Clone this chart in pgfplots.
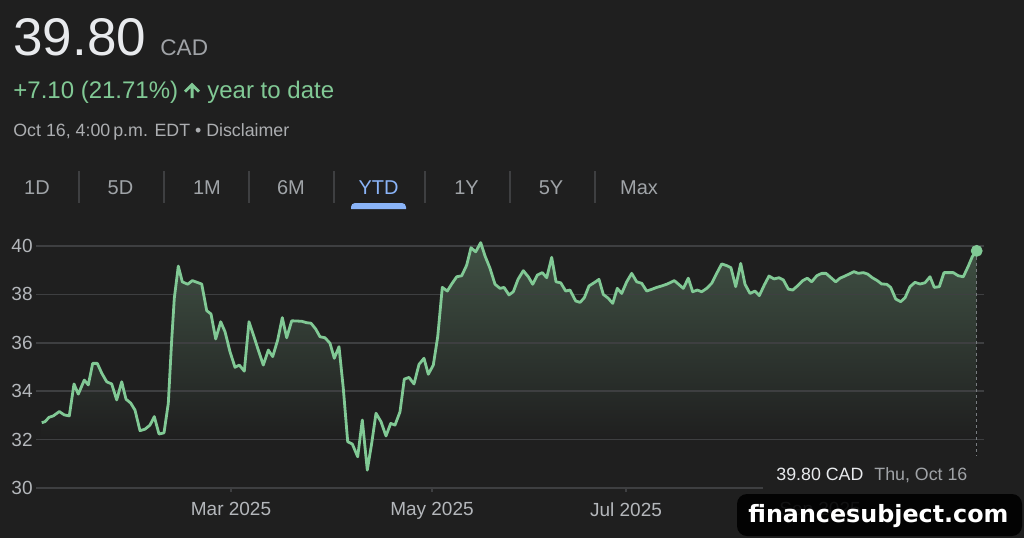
\documentclass[border=0pt]{standalone}
\usepackage{fontspec}
\setmainfont{Liberation Sans}
\newfontfamily\wmfont{DejaVu Sans}
\usepackage{pgfplots}
\pgfplotsset{compat=1.18}
\usepackage{pgfplotstable}
\usepgfplotslibrary{fillbetween}
\definecolor{bg}{RGB}{31,31,31}
\definecolor{gridc}{RGB}{62,63,65}
\definecolor{tickc}{RGB}{180,183,187}
\definecolor{linec}{RGB}{129,201,149}
\definecolor{filltop}{RGB}{64,81,68}
\definecolor{tabc}{RGB}{160,164,168}
\definecolor{ytdblue}{RGB}{138,180,248}
\definecolor{whitec}{RGB}{232,234,237}
\definecolor{grayc}{RGB}{160,163,167}
\definecolor{grayb}{RGB}{172,174,177}
\definecolor{dotc}{RGB}{120,124,128}
\pagecolor{bg}
\pgfdeclareverticalshading{areashade}{100bp}{color(0bp)=(bg); color(35bp)=(bg); color(75bp)=(filltop); color(100bp)=(filltop)}

\pgfplotstableread{
x y
41.7 32.70
45 32.74
49 32.92
53.3 32.98
59.3 33.16
64.3 33.02
69.3 32.98
74 34.30
78.3 33.88
84.3 34.46
88.3 34.26
92.7 35.15
97.3 35.15
101.7 34.75
106.7 34.39
111.7 34.30
116.7 33.64
121.7 34.39
126 33.67
130.7 33.51
135 33.22
140 32.37
145 32.43
150 32.60
154.3 32.95
159 32.23
164 32.28
168.3 33.50
171.7 36.12
174.3 37.84
178.3 39.17
182.3 38.52
187.7 38.42
192.3 38.57
198.3 38.48
201.7 38.43
206.7 37.33
211 37.19
215.7 36.16
220.7 36.87
225 36.46
230 35.63
235 34.99
239.3 35.08
244.3 34.83
249 36.87
254 36.25
258.3 35.70
263.3 35.08
268.3 35.70
272.7 35.43
277.7 36.12
282.3 37.04
286.7 36.21
291.7 36.91
296.7 36.90
301.7 36.89
306.7 36.83
311 36.81
315.7 36.57
320 36.25
325 36.21
330 35.98
334.3 35.36
339 35.84
343.3 34.12
347.7 31.91
352.3 31.82
357.7 31.29
362.3 32.81
367.3 30.74
371.7 31.85
376 33.09
381 32.74
386 32.15
390.7 32.67
395 32.60
400 33.15
404.3 34.50
409 34.57
414 34.30
419 35.11
424 35.36
428.3 34.70
433.3 35.08
437.7 36.25
442.3 38.29
447.3 38.14
451.7 38.43
456.7 38.73
461.7 38.77
466.7 39.21
471 39.93
475.7 39.76
480.7 40.14
485 39.59
490 39.08
495 38.42
500 38.25
504 38.29
509 37.98
513.3 38.11
518 38.62
523.3 38.98
528.3 38.73
532.7 38.42
537.3 38.80
542.3 38.90
546.7 38.69
551.7 39.53
556 38.52
560.7 38.48
565.7 38.14
570 38.18
575.7 37.73
580 37.67
584.3 37.86
589 38.35
594 38.48
599 38.62
603.3 38.00
608.3 37.84
612.7 37.63
617.3 38.25
621.7 38.04
626.7 38.52
631.7 38.87
636.7 38.52
641.7 38.46
646.7 38.14
651.7 38.21
656.7 38.29
661.7 38.35
667.3 38.43
674.3 38.57
678.3 38.43
683.3 38.25
688.3 38.67
692.7 38.11
697.3 38.18
701.7 38.11
706.7 38.25
711.7 38.46
716.7 38.87
721.7 39.26
726.7 39.19
731 39.10
735.7 38.32
740.7 39.28
745 38.42
750 38.04
755 38.14
759.3 37.95
764.3 38.39
769 38.76
774 38.64
779 38.69
783.3 38.60
788.3 38.22
792.7 38.18
797.7 38.36
802.7 38.57
807.3 38.67
811.7 38.52
816.7 38.77
821.7 38.87
826 38.87
831 38.69
835.7 38.52
840 38.67
845 38.76
849 38.84
854 38.94
858.3 38.87
863.3 38.90
867.7 38.84
872.3 38.69
877.3 38.57
881.7 38.43
886.7 38.42
890.7 38.29
895.7 37.81
900.7 37.70
905 37.86
910 38.32
915 38.50
920 38.43
925 38.48
930 38.73
934.3 38.29
939.3 38.32
944 38.90
949 38.90
953.3 38.90
958.3 38.77
963.3 38.73
968.3 39.17
972.3 39.56
976.7 39.80
}\pricedata

\begin{document}
\begin{tikzpicture}
\begin{scope}[x=0.5pt,y=-0.5pt]
\path[use as bounding box] (0,0) rectangle (1024,538);
\node[anchor=base west, inner sep=0pt, text=whitec, font=\fontsize{26.5}{30}\selectfont] at (13,55) {39.80};
\node[anchor=base west, inner sep=0pt, text=grayc, font=\fontsize{11.3}{13}\selectfont] at (160,55) {CAD};
\node[anchor=base west, inner sep=0pt, text=linec, font=\fontsize{12}{14}\selectfont] at (13,98) {+7.10 (21.71\%)};
\fill[linec] (192,82.5) -- (200,90.5) -- (198,92.5) -- (193.5,88) -- (193.5,98) -- (190.5,98) -- (190.5,88) -- (186,92.5) -- (184,90.5) -- cycle;
\node[anchor=base west, inner sep=0pt, text=linec, font=\fontsize{12}{14}\selectfont] at (207,98) {year to date};
\node[anchor=base west, inner sep=0pt, text=grayb, font=\fontsize{8.9}{10}\selectfont] at (13,136.7) {Oct 16, 4:00\,p.m. EDT • Disclaimer};
\foreach \cx/\lab in {37/1D,120.5/5D,207/1M,291/6M,466.5/1Y,551/5Y,639/Max}
  \node[anchor=base, inner sep=0pt, text=tabc, font=\fontsize{10}{12}\selectfont] at (\cx,194) {\lab};
\node[anchor=base, inner sep=0pt, text=ytdblue, font=\fontsize{10}{12}\selectfont] at (378.5,194) {YTD};
\foreach \sx in {79,164,249,334,425,510,595}
  \draw[gridc, line width=0.6pt] (\sx,171) -- (\sx,203);
\fill[ytdblue] (351,209) -- (351,207) to[out=90,in=180] (355,203) -- (402,203) to[out=0,in=90] (406,207) -- (406,209) -- cycle;
\end{scope}

\begin{axis}[at={(18pt,-244pt)}, anchor=south west, scale only axis,
  width=474pt, height=121pt, xmin=36, xmax=984, ymin=30, ymax=40,
  clip=false, axis line style={draw=none},
  ymajorgrids, major grid style={draw=gridc, line width=0.75pt},
  ytick={30,32,...,40}, xtick={231,432,626,820},
  xticklabels={Mar 2025, May 2025, Jul 2025, Sep 2025},
  xtick pos=bottom, ytick style={draw=none},
  tick align=inside, major tick length=2pt,
  xtick style={draw=gridc, line width=0.75pt, yshift=-2pt},
  tick label style={font=\fontsize{9.5}{11}\selectfont, text=tickc},
  /pgf/number format/assume math mode=true,
  yticklabel style={anchor=east, inner sep=0pt, xshift=-1.5pt},
  xticklabel style={anchor=north, inner sep=0pt, yshift=-7pt},
]
\addplot[name path=price0, draw=none] table {\pricedata};
\addplot[name path=base, draw=none] coordinates {(41.7,30) (976.7,30)};
\addplot[shading=areashade, draw=none] fill between[of=price0 and base, on layer=axis background];
\addplot[dotc, line width=0.6pt, dash pattern=on 1.5pt off 1.5pt] coordinates {(976.7,39.8) (976.7,31.36)};
\addplot[linec, line width=1.4pt, line join=round] table {\pricedata};
\addplot[only marks, mark=*, mark size=2.75pt, color=linec] coordinates {(976.7,39.80)};
\end{axis}

\begin{scope}[x=0.5pt,y=-0.5pt]
\fill[bg] (763,456) rectangle (990,494);
\node[anchor=base west, inner sep=0pt, text=whitec, font=\fontsize{8.9}{10}\selectfont] at (776,480.7) {39.80 CAD};
\node[anchor=base west, inner sep=0pt, text=grayc, font=\fontsize{8.9}{10}\selectfont] at (874,480.7) {Thu, Oct 16};
\fill[black, opacity=0.9, rounded corners=5pt] (737,494) rectangle (1022,536);
\node[anchor=base west, inner sep=0pt, text=white, font=\wmfont\bfseries\fontsize{11.9}{14}\selectfont] at (748,522.7) {financesubject.com};
\end{scope}
\end{tikzpicture}
\end{document}
